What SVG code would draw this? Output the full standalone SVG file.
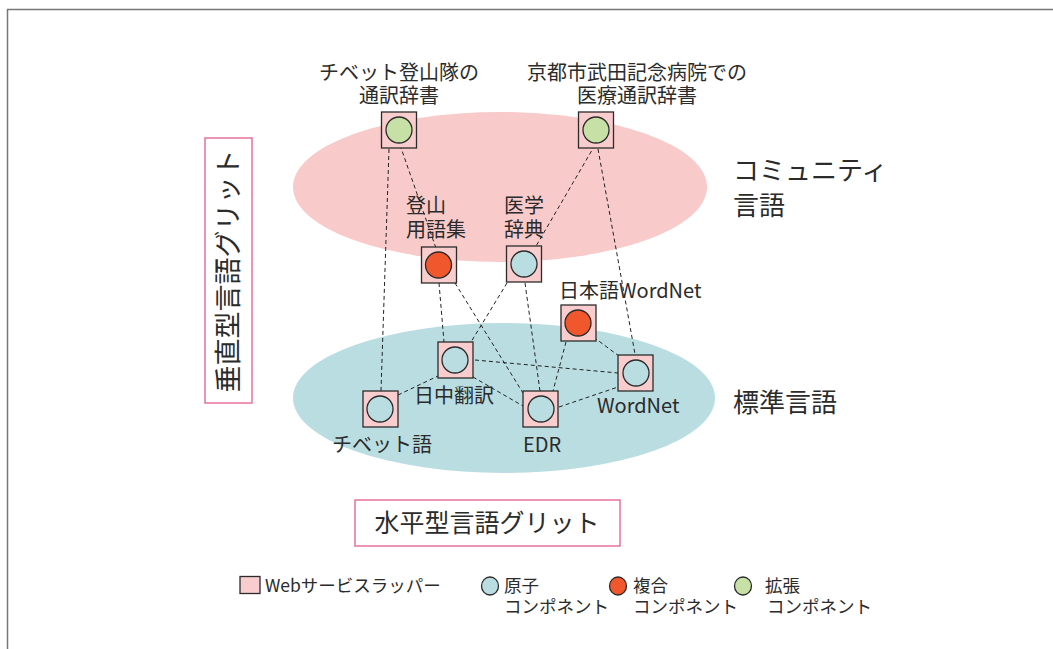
<svg xmlns="http://www.w3.org/2000/svg" width="1053" height="649" viewBox="0 0 1053 649">
<style>
text{font-family:"Noto Sans CJK JP","Noto Sans",sans-serif;fill:#2b2b2b}
.lbl{font-size:20px}
.big{font-size:26px}
.leg{font-size:17.5px}
.sq{fill:#f9cdcd;stroke:#2b2b2b;stroke-width:1.3}
.c{stroke:#2b2b2b;stroke-width:1.3}
.atom{fill:#b9dde1}
.comp{fill:#f0572c}
.ext{fill:#c6e0a6}
.cn line{stroke:#222;stroke-width:1;stroke-dasharray:4 3;fill:none}
.box{fill:#fff;stroke:#e8729a;stroke-width:1.5}
</style>
<rect x="0" y="0" width="1053" height="649" fill="#fff"/>
<path d="M7.5 649 V9.5 H1053" fill="none" stroke="#777" stroke-width="1.5"/>
<g id="regions">
<ellipse cx="500" cy="187" rx="207" ry="75" fill="#f8caca"/>
<ellipse cx="504" cy="398" rx="211" ry="75" fill="#b9dde1"/>
<text class="big" x="733" y="180">コミュニティ<tspan x="733" dy="35">言語</tspan></text>
<text class="big" x="733" y="412">標準言語</text>
</g>
<g id="vertical-label">
<rect class="box" x="205" y="138" width="47" height="265"/>
<text transform="translate(238,271) rotate(-90)" text-anchor="middle" style="font-size:27px">垂直型言語グリット</text>
</g>
<g id="horizontal-label">
<rect class="box" x="355" y="500" width="265" height="46"/>
<text x="487" y="532" text-anchor="middle" style="font-size:25px">水平型言語グリット</text>
</g>
<g class="cn" id="connectors">
<line x1="389" y1="149" x2="381" y2="391"/>
<line x1="400" y1="145" x2="437" y2="251"/>
<line x1="595" y1="145" x2="532" y2="253"/>
<line x1="598" y1="149" x2="635" y2="354"/>
<line x1="439" y1="283" x2="444" y2="342"/>
<line x1="455" y1="283" x2="523" y2="393"/>
<line x1="507" y1="283" x2="471" y2="342"/>
<line x1="525" y1="283" x2="540" y2="391"/>
<line x1="588" y1="333" x2="627" y2="362"/>
<line x1="566" y1="342" x2="553" y2="391"/>
<line x1="475" y1="360" x2="618" y2="373"/>
<line x1="398" y1="395" x2="438" y2="376"/>
<line x1="473" y1="377" x2="523" y2="406"/>
<line x1="559" y1="407" x2="618" y2="387"/>
</g>
<g id="n-tibet-dict">
<rect class="sq" x="381.5" y="112" width="35" height="36"/>
<circle class="c ext" cx="399" cy="130" r="13"/>
<text class="lbl" x="399" y="80" text-anchor="middle">チベット登山隊の<tspan x="399" dy="23">通訳辞書</tspan></text>
</g>
<g id="n-kyoto">
<rect class="sq" x="578.5" y="112" width="35" height="36"/>
<circle class="c ext" cx="596" cy="130" r="13"/>
<text class="lbl" x="637" y="80" text-anchor="middle">京都市武田記念病院での<tspan x="637" dy="23">医療通訳辞書</tspan></text>
</g>
<g id="n-tozan">
<rect class="sq" x="421.5" y="247" width="35" height="36"/>
<circle class="c comp" cx="438.5" cy="265" r="13"/>
<text class="lbl" x="406" y="213">登山<tspan x="406" dy="24">用語集</tspan></text>
</g>
<g id="n-igaku">
<rect class="sq" x="506.5" y="246" width="35" height="36"/>
<circle class="c atom" cx="524" cy="264" r="13"/>
<text class="lbl" x="504" y="213">医学<tspan x="504" dy="24">辞典</tspan></text>
</g>
<g id="n-jwordnet">
<rect class="sq" x="561" y="305" width="35" height="36"/>
<circle class="c comp" cx="578" cy="323" r="13"/>
<text class="lbl" x="559" y="298">日本語WordNet</text>
</g>
<g id="n-nicchu">
<rect class="sq" x="438" y="342" width="35" height="36"/>
<circle class="c atom" cx="455" cy="360" r="13"/>
<text class="lbl" x="414" y="403">日中翻訳</text>
</g>
<g id="n-tibet">
<rect class="sq" x="363" y="391" width="35" height="36"/>
<circle class="c atom" cx="380" cy="409" r="13"/>
<text class="lbl" x="332" y="452">チベット語</text>
</g>
<g id="n-edr">
<rect class="sq" x="523" y="391" width="35" height="36"/>
<circle class="c atom" cx="541" cy="409" r="13"/>
<text class="lbl" x="542" y="452" text-anchor="middle">EDR</text>
</g>
<g id="n-wordnet">
<rect class="sq" x="618" y="355" width="35" height="36"/>
<circle class="c atom" cx="636" cy="373" r="13"/>
<text class="lbl" x="597" y="413">WordNet</text>
</g>
<g id="legend">
<rect class="sq" x="240" y="576.5" width="20" height="17"/>
<text class="leg" x="265" y="592">Webサービスラッパー</text>
<ellipse class="c atom" cx="490" cy="586" rx="8.5" ry="9"/>
<text class="leg" x="504" y="592">原子<tspan x="504" dy="21">コンポネント</tspan></text>
<ellipse class="c comp" cx="618" cy="586" rx="8.5" ry="9"/>
<text class="leg" x="633" y="592">複合<tspan x="633" dy="21">コンポネント</tspan></text>
<ellipse class="c ext" cx="743" cy="586" rx="8.5" ry="9"/>
<text class="leg" x="765" y="592">拡張<tspan x="767" dy="21">コンポネント</tspan></text>
</g>
</svg>
